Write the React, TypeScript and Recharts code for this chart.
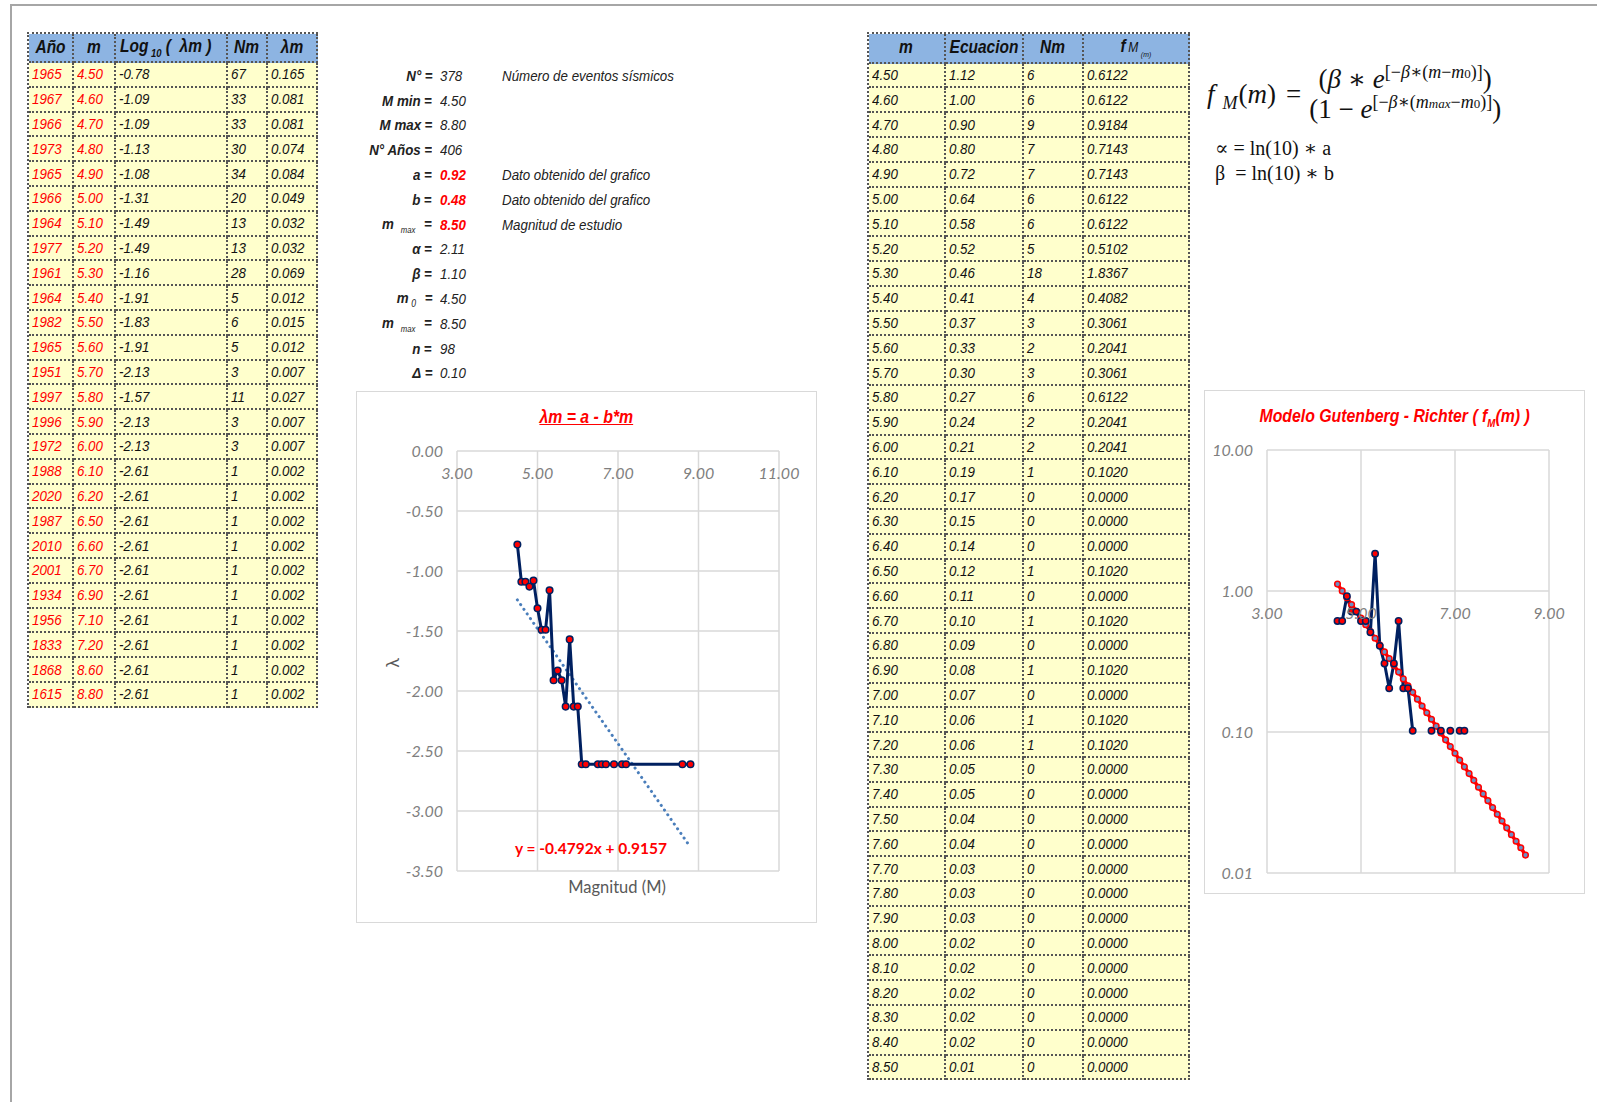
import { LineChart, Line, XAxis, YAxis, CartesianGrid, ReferenceDot } from 'recharts';

// fonts closest to the Excel sheet (Arial Narrow / Calibri / Cambria Math)
const FONT_SHEET = "'Liberation Sans', Arial, sans-serif";
const FONT_CHART = "Lato, 'Open Sans', sans-serif";
const FONT_MATH = "'Liberation Serif', 'DejaVu Serif', serif";
const NARROW = 0.86; // Liberation Sans squeezed to look like Arial Narrow

const RED = '#ff0000';
const NAVY = '#002060';
const HEADER_BG = '#8db4e2';
const CELL_BG = '#ffffcc';
const GRID = '#d9d9d9';
const TICK = '#7f7f7f';
const CELL_BORDER = '2px dotted #555';

// left table: observed events
const years = [1965, 1967, 1966, 1973, 1965, 1966, 1964, 1977, 1961, 1964, 1982, 1965, 1951, 1997, 1996, 1972, 1988, 2020, 1987, 2010, 2001, 1934, 1956, 1833, 1868, 1615];
const magnitudes = [4.5, 4.6, 4.7, 4.8, 4.9, 5.0, 5.1, 5.2, 5.3, 5.4, 5.5, 5.6, 5.7, 5.8, 5.9, 6.0, 6.1, 6.2, 6.5, 6.6, 6.7, 6.9, 7.1, 7.2, 8.6, 8.8];
const logLambda = [-0.78, -1.09, -1.09, -1.13, -1.08, -1.31, -1.49, -1.49, -1.16, -1.91, -1.83, -1.91, -2.13, -1.57, -2.13, -2.13, -2.61, -2.61, -2.61, -2.61, -2.61, -2.61, -2.61, -2.61, -2.61, -2.61];
const nmObserved = [67, 33, 33, 30, 34, 20, 13, 13, 28, 5, 6, 5, 3, 11, 3, 3, 1, 1, 1, 1, 1, 1, 1, 1, 1, 1];
const lambdaM = [0.165, 0.081, 0.081, 0.074, 0.084, 0.049, 0.032, 0.032, 0.069, 0.012, 0.015, 0.012, 0.007, 0.027, 0.007, 0.007, 0.002, 0.002, 0.002, 0.002, 0.002, 0.002, 0.002, 0.002, 0.002, 0.002];

// trend line ends
const trendM = [4.5, 8.8];
const trendY = [-1.241, -3.301];

// parameters block
const paramLabels = ['N°', 'M min', 'M max', 'N° Años', 'a', 'b', 'm', 'α', 'β', 'm', 'm', 'n', 'Δ'];
const paramSubs = ['', '', '', '', '', '', 'max', '', '', '0', 'max', '', ''];
const paramValues = ['378', '4.50', '8.80', '406', '0.92', '0.48', '8.50', '2.11', '1.10', '4.50', '8.50', '98', '0.10'];
const paramHighlight = [false, false, false, false, true, true, true, false, false, false, false, false, false];
const paramNotes = ['Número de eventos sísmicos', '', '', '', 'Dato obtenido del grafico', 'Dato obtenido del grafico', 'Magnitud de estudio', '', '', '', '', '', ''];

// right table: model
const modelM = [4.5, 4.6, 4.7, 4.8, 4.9, 5.0, 5.1, 5.2, 5.3, 5.4, 5.5, 5.6, 5.7, 5.8, 5.9, 6.0, 6.1, 6.2, 6.3, 6.4, 6.5, 6.6, 6.7, 6.8, 6.9, 7.0, 7.1, 7.2, 7.3, 7.4, 7.5, 7.6, 7.7, 7.8, 7.9, 8.0, 8.1, 8.2, 8.3, 8.4, 8.5];
const ecuacion = [1.119, 1.002, 0.897, 0.803, 0.719, 0.644, 0.576, 0.516, 0.462, 0.414, 0.37, 0.332, 0.297, 0.266, 0.238, 0.213, 0.191, 0.171, 0.153, 0.137, 0.123, 0.11, 0.0983, 0.088, 0.0788, 0.0706, 0.0632, 0.0566, 0.0507, 0.0454, 0.0406, 0.0364, 0.0326, 0.0291, 0.0261, 0.0234, 0.0209, 0.0187, 0.0168, 0.0151, 0.0134];
const nmModel = [6, 6, 9, 7, 7, 6, 6, 5, 18, 4, 3, 2, 3, 6, 2, 2, 1, 0, 0, 0, 1, 0, 1, 0, 1, 0, 1, 1, 0, 0, 0, 0, 0, 0, 0, 0, 0, 0, 0, 0, 0];
const fmObserved = [0.6122, 0.6122, 0.9184, 0.7143, 0.7143, 0.6122, 0.6122, 0.5102, 1.8367, 0.4082, 0.3061, 0.2041, 0.3061, 0.6122, 0.2041, 0.2041, 0.102, 0, 0, 0, 0.102, 0, 0.102, 0, 0.102, 0, 0.102, 0.102, 0, 0, 0, 0, 0, 0, 0, 0, 0, 0, 0, 0, 0];

const xTicks1 = [3, 5, 7, 9, 11];
const yTicks1 = [-3.5, -3, -2.5, -2, -1.5, -1, -0.5, 0];
const xTicks2 = [3, 5, 7, 9];
const yTicks2 = [0.01, 0.1, 1, 10];

const obsData = magnitudes.map((m, i) => ({ m, y: logLambda[i] }));
const trendData = trendM.map((m, i) => ({ m, y: trendY[i] }));
const modelData = modelM.map((m, i) => ({ m, y: ecuacion[i] }));
const fmData = modelM.map((m, i) => ({ m, y: fmObserved[i] > 0 ? fmObserved[i] : null }));

const ROW_H = 24.8;

function Narrow({ children, origin = 'left', scale = NARROW, style = {} }: { children: any; origin?: string; scale?: number; style?: any }) {
  return (
    <span style={{ display: 'inline-block', transform: `scaleX(${scale})`, transformOrigin: `${origin} center`, whiteSpace: 'nowrap', ...style }}>
      {children}
    </span>
  );
}

const cell = (extra = {}) => ({
  borderRight: CELL_BORDER,
  borderBottom: CELL_BORDER,
  boxSizing: 'border-box' as const,
  display: 'flex',
  alignItems: 'center',
  paddingLeft: 3,
  overflow: 'hidden',
  whiteSpace: 'nowrap' as const,
  ...extra,
});

const headCell = cell({ background: HEADER_BG, justifyContent: 'center', paddingLeft: 0, fontWeight: 700, fontSize: 18, color: '#111' });

function Head({ children, origin = 'center' }: { children: any; origin?: string }) {
  return <Narrow origin={origin}>{children}</Narrow>;
}

function LeftTable() {
  const cols = [45, 42.6, 111.4, 40.3, 50];
  return (
    <div
      style={{
        position: 'absolute', left: 26.7, top: 32, display: 'grid',
        gridTemplateColumns: cols.map((c) => c + 'px').join(' '),
        gridTemplateRows: `29px repeat(${years.length}, ${ROW_H}px)`,
        borderLeft: CELL_BORDER, borderTop: CELL_BORDER, boxSizing: 'border-box',
        fontFamily: FONT_SHEET, fontStyle: 'italic', fontSize: 15.5,
      }}
    >
      <div style={headCell}><Head>Año</Head></div>
      <div style={headCell}><Head>m</Head></div>
      <div style={{ ...headCell, justifyContent: 'flex-start', paddingLeft: 4 }}>
        <Head origin="left">
          Log<sub style={{ fontSize: 11, margin: '0 5px 0 3px' }}>10</sub>(&nbsp; λm&nbsp;)
        </Head>
      </div>
      <div style={headCell}><Head>Nm</Head></div>
      <div style={headCell}><Head>λm</Head></div>
      {years.map((y, i) => (
        <>
          <div key={'y' + i} style={cell({ background: CELL_BG, color: RED })}><Narrow>{y}</Narrow></div>
          <div key={'m' + i} style={cell({ background: CELL_BG, color: RED })}><Narrow>{magnitudes[i].toFixed(2)}</Narrow></div>
          <div key={'l' + i} style={cell({ background: CELL_BG, color: '#111' })}><Narrow>{logLambda[i].toFixed(2)}</Narrow></div>
          <div key={'n' + i} style={cell({ background: CELL_BG, color: '#111' })}><Narrow>{nmObserved[i]}</Narrow></div>
          <div key={'k' + i} style={cell({ background: CELL_BG, color: '#111' })}><Narrow>{lambdaM[i].toFixed(3)}</Narrow></div>
        </>
      ))}
    </div>
  );
}

function RightTable() {
  const cols = [77.3, 77.7, 60, 106];
  return (
    <div
      style={{
        position: 'absolute', left: 866.7, top: 31.7, display: 'grid',
        gridTemplateColumns: cols.map((c) => c + 'px').join(' '),
        gridTemplateRows: `30px repeat(${modelM.length}, ${ROW_H}px)`,
        borderLeft: CELL_BORDER, borderTop: CELL_BORDER, boxSizing: 'border-box',
        fontFamily: FONT_SHEET, fontStyle: 'italic', fontSize: 15.5, color: '#111',
      }}
    >
      <div style={headCell}><Head>m</Head></div>
      <div style={headCell}><Head>Ecuacion</Head></div>
      <div style={headCell}><Head>Nm</Head></div>
      <div style={headCell}>
        <Head>
          f<span style={{ fontWeight: 400, fontSize: 14, marginLeft: 3 }}>M</span>
          <sub style={{ fontWeight: 400, fontSize: 8, marginLeft: 3 }}>(m)</sub>
        </Head>
      </div>
      {modelM.map((m, i) => (
        <>
          <div key={'a' + i} style={cell({ background: CELL_BG })}><Narrow>{m.toFixed(2)}</Narrow></div>
          <div key={'b' + i} style={cell({ background: CELL_BG })}><Narrow>{ecuacion[i].toFixed(2)}</Narrow></div>
          <div key={'c' + i} style={cell({ background: CELL_BG })}><Narrow>{nmModel[i]}</Narrow></div>
          <div key={'d' + i} style={cell({ background: CELL_BG })}><Narrow>{fmObserved[i].toFixed(4)}</Narrow></div>
        </>
      ))}
    </div>
  );
}

function Params() {
  return (
    <div style={{ fontFamily: FONT_SHEET, fontStyle: 'italic', fontSize: 15.5, color: '#222' }}>
      {paramLabels.map((lab, i) => {
        const top = 63.5 + i * ROW_H;
        return (
          <div key={i}>
            <div style={{ position: 'absolute', right: 1597 - 432, top, height: ROW_H, display: 'flex', alignItems: 'center', fontWeight: 700 }}>
              <Narrow origin="right">
                {lab}
                {paramSubs[i] && (
                  <sub style={{ fontSize: paramSubs[i] === '0' ? 10 : 9, fontWeight: 400, marginLeft: paramSubs[i] === '0' ? 3 : 8, marginRight: 6 }}>{paramSubs[i]}</sub>
                )}
                <span style={{ marginLeft: 4 }}>=</span>
              </Narrow>
            </div>
            <div style={{ position: 'absolute', left: 440, top, height: ROW_H, display: 'flex', alignItems: 'center', color: paramHighlight[i] ? RED : '#222', fontWeight: paramHighlight[i] ? 700 : 400 }}>
              <Narrow>{paramValues[i]}</Narrow>
            </div>
            {paramNotes[i] && (
              <div style={{ position: 'absolute', left: 502, top, height: ROW_H, display: 'flex', alignItems: 'center' }}>
                <Narrow>{paramNotes[i]}</Narrow>
              </div>
            )}
          </div>
        );
      })}
    </div>
  );
}

function Formula() {
  const sup = { fontSize: 18, verticalAlign: 'super' as const, lineHeight: 0 };
  const small = { fontSize: 13 };
  return (
    <div style={{ fontFamily: FONT_MATH, color: '#111' }}>
      <div style={{ position: 'absolute', left: 1207, top: 62, height: 64, display: 'flex', alignItems: 'center', fontSize: 27, whiteSpace: 'nowrap' }}>
        <span>
          <i>f</i>
          <span style={{ fontSize: 18, verticalAlign: 'sub', lineHeight: 0, margin: '0 1px 0 8px' }}><i>M</i></span>
          (<i>m</i>)<span style={{ margin: '0 8px 0 10px' }}>=</span>
        </span>
        <div style={{ display: 'flex', flexDirection: 'column', alignItems: 'center', lineHeight: '30px' }}>
          <div>
            (<i>β</i> ∗ <i>e</i>
            <span style={sup}>[−<i>β</i>∗(<i>m</i>−<i>m</i><span style={small}>0</span>)]</span>)
          </div>
          <div>
            (1 − <i>e</i>
            <span style={sup}>[−<i>β</i>∗(<i>m</i><span style={small}><i>max</i></span>−<i>m</i><span style={small}>0</span>)]</span>)
          </div>
        </div>
      </div>
      <div style={{ position: 'absolute', left: 1215, top: 136, fontSize: 20, whiteSpace: 'nowrap' }}>∝ = ln(10) ∗ a</div>
      <div style={{ position: 'absolute', left: 1215, top: 161, fontSize: 20, whiteSpace: 'nowrap' }}>β &nbsp;= ln(10) ∗ b</div>
    </div>
  );
}

const YTick = (p: any) => (
  <text x={p.x} y={p.y} dy="0.35em" textAnchor="end" fill={TICK} fontSize={16} fontStyle="italic" fontFamily={FONT_CHART}>
    {Number(p.payload.value).toFixed(2)}
  </text>
);

// x tick labels sit just under the line where the x axis crosses (y = 0 / y = 1)
const xLabel = (t: number) => ({
  content: (p: any) => {
    const vb = p.viewBox || { x: 0, y: 0, width: 0, height: 0 };
    return (
      <text x={vb.x + vb.width / 2} y={vb.y + vb.height / 2 + 28} textAnchor="middle" fill={TICK} fontSize={16} fontStyle="italic" fontFamily={FONT_CHART}>
        {t.toFixed(2)}
      </text>
    );
  },
});

function LambdaChart() {
  return (
    <div style={{ position: 'absolute', left: 356, top: 391, width: 461, height: 532, border: '1px solid ' + GRID, boxSizing: 'border-box', background: '#fff' }}>
      <LineChart width={459} height={530} margin={{ top: 59, right: 37, bottom: 51, left: 40 }}>
        <CartesianGrid stroke={GRID} strokeWidth={1.5} />
        <XAxis type="number" dataKey="m" domain={[3, 11]} ticks={xTicks1} hide />
        <YAxis
          type="number"
          domain={[-3.5, 0]}
          ticks={yTicks1}
          width={60}
          tickSize={0}
          tickMargin={14}
          axisLine={false}
          tickLine={false}
          tick={YTick}
        />
        <Line
          data={trendData}
          dataKey="y"
          stroke="#4a7ebb"
          strokeWidth={3}
          strokeDasharray="0.1 5.6"
          strokeLinecap="round"
          dot={false}
          isAnimationActive={false}
        />
        <Line
          data={obsData}
          dataKey="y"
          stroke={NAVY}
          strokeWidth={3}
          dot={{ r: 3.3, fill: RED, stroke: NAVY, strokeWidth: 1.5 }}
          isAnimationActive={false}
        />
        {xTicks1.map((t) => (
          <ReferenceDot key={t} x={t} y={0} r={0.5} fill="none" stroke="none" label={xLabel(t)} />
        ))}
      </LineChart>
      <div style={{ position: 'absolute', left: 0, width: '100%', top: 15, textAlign: 'center', color: RED, fontFamily: FONT_SHEET, fontWeight: 700, fontStyle: 'italic', fontSize: 18 }}>
        <Narrow origin="center" scale={0.88} style={{ textDecoration: 'underline' }}>λm = a - b*m</Narrow>
      </div>
      <div style={{ position: 'absolute', left: 158, top: 447, color: RED, fontFamily: FONT_CHART, fontWeight: 700, fontSize: 15.5, whiteSpace: 'nowrap' }}>
        y = -0.4792x + 0.9157
      </div>
      <div style={{ position: 'absolute', left: 160, width: 200, top: 485, textAlign: 'center', color: '#595959', fontFamily: FONT_CHART, fontSize: 16.5 }}>
        Magnitud (M)
      </div>
      <div style={{ position: 'absolute', left: 26, top: 259, width: 20, height: 24, transform: 'rotate(-90deg)', color: '#595959', fontFamily: FONT_CHART, fontSize: 18, textAlign: 'center' }}>
        λ
      </div>
    </div>
  );
}

function GutenbergChart() {
  return (
    <div style={{ position: 'absolute', left: 1204, top: 390, width: 381, height: 504, border: '1px solid ' + GRID, boxSizing: 'border-box', background: '#fff' }}>
      <LineChart width={379} height={502} margin={{ top: 59, right: 35, bottom: 20, left: 2 }}>
        <CartesianGrid stroke={GRID} strokeWidth={1.5} />
        <XAxis type="number" dataKey="m" domain={[3, 9]} ticks={xTicks2} hide />
        <YAxis
          type="number"
          scale="log"
          domain={[0.01, 10]}
          ticks={yTicks2}
          allowDataOverflow
          width={60}
          tickSize={0}
          tickMargin={14}
          axisLine={false}
          tickLine={false}
          tick={YTick}
        />
        <Line
          data={modelData}
          dataKey="y"
          stroke={RED}
          strokeWidth={3.5}
          dot={{ r: 2.8, fill: '#6a8fc4', stroke: RED, strokeWidth: 1.5 }}
          isAnimationActive={false}
        />
        <Line
          data={fmData}
          dataKey="y"
          stroke={NAVY}
          strokeWidth={3}
          connectNulls={false}
          dot={{ r: 3.2, fill: RED, stroke: NAVY, strokeWidth: 1.5 }}
          isAnimationActive={false}
        />
        {xTicks2.map((t) => (
          <ReferenceDot key={t} x={t} y={1} r={0.5} fill="none" stroke="none" label={xLabel(t)} />
        ))}
      </LineChart>
      <div style={{ position: 'absolute', left: 0, width: '100%', top: 15, textAlign: 'center', color: RED, fontFamily: FONT_SHEET, fontWeight: 700, fontStyle: 'italic', fontSize: 18 }}>
        <Narrow origin="center" scale={0.88}>
          Modelo Gutenberg - Richter ( f<sub style={{ fontSize: 11 }}>M</sub>(m) )
        </Narrow>
      </div>
    </div>
  );
}

export default function App() {
  return (
    <div style={{ position: 'absolute', left: 0, top: 0, width: 1597, height: 1102, background: '#fff', overflow: 'hidden' }}>
      <div style={{ position: 'absolute', left: 10, top: 4, width: 1587, height: 2, background: '#a6a6a6' }} />
      <div style={{ position: 'absolute', left: 10, top: 4, width: 2, height: 1098, background: '#a6a6a6' }} />
      <LeftTable />
      <Params />
      <LambdaChart />
      <RightTable />
      <Formula />
      <GutenbergChart />
    </div>
  );
}
